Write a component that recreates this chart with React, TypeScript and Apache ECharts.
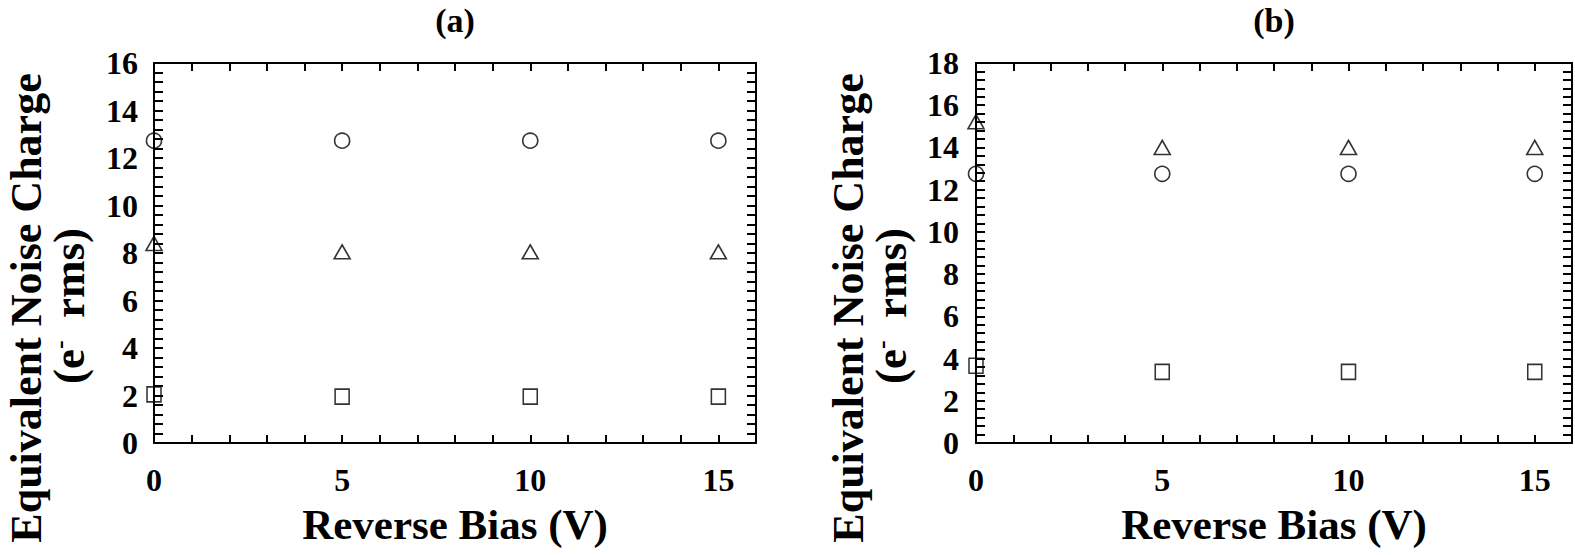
import React, { useEffect, useRef } from "react";
import * as echarts from "echarts";

// Reverse bias (V)
const biasV = [0, 5, 10, 15];

// Panel (a) values (e- rms)
const aCircle = [12.73, 12.73, 12.73, 12.73];
const aTriangle = [8.4, 8.05, 8.05, 8.05];
const aSquare = [2.05, 1.95, 1.95, 1.95];

// Panel (b) values (e- rms)
const bTriangle = [15.22, 14.0, 14.0, 14.0];
const bCircle = [12.75, 12.75, 12.75, 12.75];
const bSquare = [3.66, 3.37, 3.37, 3.37];

const panelTitles = ["(a)", "(b)"];
const yMaxes = [16, 18];

const FONT = "'Liberation Serif', 'Times New Roman', serif";

export default function App() {
  const ref = useRef<HTMLDivElement>(null);

  useEffect(() => {
    if (!ref.current) return;
    const chart = echarts.init(ref.current, undefined, { renderer: "svg" });

    const grids = [
      { left: 154, top: 63, width: 602, height: 380 },
      { left: 976, top: 63, width: 596, height: 380 },
    ];

    const lineStyle = { color: "#000", width: 2 };
    const tickCommon = {
      show: true,
      inside: true,
      length: 8,
      lineStyle: { color: "#000", width: 2 },
    };
    const labelCommon = {
      color: "#000",
      fontFamily: FONT,
      fontWeight: "bold" as const,
      fontSize: 32,
    };

    const xAxes: any[] = [];
    const yAxes: any[] = [];
    [0, 1].forEach((g) => {
      // bottom
      xAxes.push({
        type: "value",
        gridIndex: g,
        min: 0,
        max: 16,
        interval: 1,
        position: "bottom",
        axisLine: { show: true, onZero: false, lineStyle },
        axisTick: tickCommon,
        splitLine: { show: false },
        axisLabel: {
          ...labelCommon,
          margin: 21,
          formatter: (v: number) => (v % 5 === 0 && v <= 15 ? String(v) : ""),
        },
      });
      // top mirror
      xAxes.push({
        type: "value",
        gridIndex: g,
        min: 0,
        max: 16,
        interval: 1,
        position: "top",
        axisLine: { show: true, onZero: false, lineStyle },
        axisTick: tickCommon,
        splitLine: { show: false },
        axisLabel: { show: false },
      });
      // left
      yAxes.push({
        type: "value",
        gridIndex: g,
        min: 0,
        max: yMaxes[g],
        interval: 2,
        position: "left",
        axisLine: { show: true, onZero: false, lineStyle },
        axisTick: { ...tickCommon, length: 9 },
        minorTick: {
          show: true,
          splitNumber: 5,
          length: 9,
          lineStyle: { color: "#000", width: 2 },
        },
        splitLine: { show: false },
        minorSplitLine: { show: false },
        axisLabel: { ...labelCommon, margin: g === 0 ? 16 : 17 },
      });
      // right mirror
      yAxes.push({
        type: "value",
        gridIndex: g,
        min: 0,
        max: yMaxes[g],
        interval: 2,
        position: "right",
        axisLine: { show: true, onZero: false, lineStyle },
        axisTick: { ...tickCommon, length: 9 },
        minorTick: {
          show: true,
          splitNumber: 5,
          length: 9,
          lineStyle: { color: "#000", width: 2 },
        },
        splitLine: { show: false },
        axisLabel: { show: false },
      });
    });

    const pts = (ys: number[]) => biasV.map((x, i) => [x, ys[i]]);
    const mk = (
      name: string,
      g: number,
      ys: number[],
      symbol: string,
      size: number | number[]
    ) => ({
      name,
      type: "scatter",
      xAxisIndex: g * 2,
      yAxisIndex: g * 2,
      data: pts(ys),
      symbol,
      symbolSize: size,
      clip: false,
      itemStyle: {
        color: "rgba(255,255,255,0)",
        borderColor: "#000",
        borderWidth: 1.6,
      },
      z: 5,
    });

    const series = [
      mk("a-circle", 0, aCircle, "circle", 15),
      mk("a-triangle", 0, aTriangle, "triangle", [16, 14]),
      mk("a-square", 0, aSquare, "rect", [14, 15]),
      mk("b-triangle", 1, bTriangle, "triangle", [16, 14]),
      mk("b-circle", 1, bCircle, "circle", 15),
      mk("b-square", 1, bSquare, "rect", [14, 15]),
    ];

    const titleText = (x: number, y: number, text: string, size: number, rotation = 0, rich?: any) => ({
      type: "text",
      x,
      y,
      rotation,
      style: {
        text,
        x: 0,
        y: 0,
        align: "center",
        verticalAlign: "middle",
        fill: "#000",
        fontFamily: FONT,
        fontWeight: "bold",
        fontSize: size,
        rich,
      },
    });

    const richSup = {
      sup: {
        fontFamily: FONT,
        fontWeight: "bold",
        fontSize: 26,
        verticalAlign: "top",
        fill: "#000",
      },
    };

    const graphic: any[] = [];
    [0, 1].forEach((g) => {
      const gr = grids[g];
      const cx = gr.left + gr.width / 2;
      graphic.push(titleText(cx, 20, panelTitles[g], 34));
      graphic.push(titleText(cx, 524, "Reverse Bias (V)", 43));
      const yBase = g === 0 ? 0 : 822;
      graphic.push(titleText(yBase + 26, 308, "Equivalent Noise Charge", 44, Math.PI / 2));
      graphic.push(
        titleText(yBase + 69, 306, "(e{sup|-}  rms)", 45, Math.PI / 2, richSup)
      );
    });

    chart.setOption({
      animation: false,
      backgroundColor: "#fff",
      grid: grids.map((g) => ({ ...g, containLabel: false })),
      xAxis: xAxes,
      yAxis: yAxes,
      series,
      graphic,
    });

    return () => chart.dispose();
  }, []);

  return (
    <div
      ref={ref}
      style={{ position: "fixed", left: 0, top: 0, width: 1575, height: 555 }}
    />
  );
}
